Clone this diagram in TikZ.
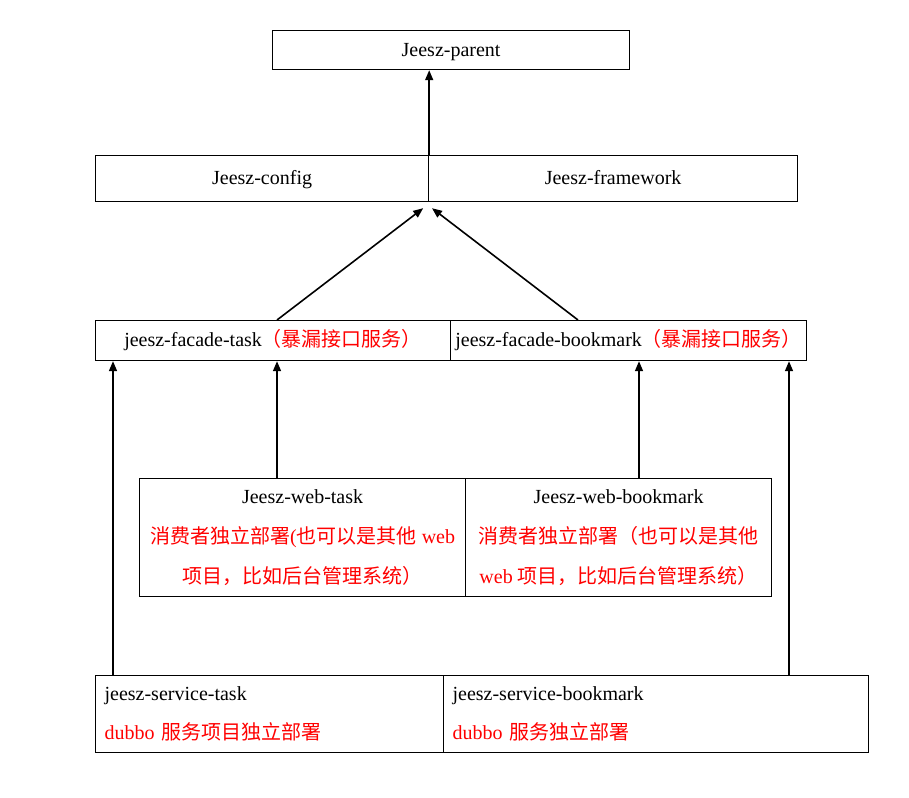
\documentclass[tikz,border=0pt]{standalone}
\usepackage{fontspec}
\setmainfont{Liberation Serif}
\newfontfamily\cjk{Noto Sans CJK SC}
\usetikzlibrary{arrows.meta,calc,positioning}
\definecolor{jred}{RGB}{255,0,0}
\tikzset
{
    box/.style  = {draw=black, line width=0.6pt, anchor=north west, inner sep=0pt, align=center, font=\fontsize{10}{20}\selectfont},
    onebox/.style = {box, text height=8pt, text depth=2pt},
    lbox/.style = {box, align=left, inner xsep=4.5pt, font=\fontsize{10}{19.5}\selectfont},
    dep/.style  = {-{Triangle[length=5pt,width=4pt]}, line width=0.8pt}
}
\newcommand{\zh}[1]{{\cjk #1}}
\newcommand{\rd}[1]{\textcolor{jred}{#1}}

\begin{document}
\begin{tikzpicture}[x=0.5pt, y=-0.5pt]
\useasboundingbox (0,0) rectangle (909,797);
\node (parent)	[onebox, minimum width=178.5pt, minimum height=19.5pt]	at (272,30)	{Jeesz-parent};
\node (cfg)		[onebox, minimum width=166.5pt, minimum height=23pt]	at (95,155)	{Jeesz-config};
\node (fwork)	[onebox, minimum width=184.5pt, minimum height=23pt]	at (428,155)	{Jeesz-framework};
\node (ftask)	[onebox, minimum width=177.5pt, minimum height=20pt]	at (95,320)	{jeesz-facade-task\rd{\zh{（暴漏接口服务）}}};
\node (fbook)	[onebox, minimum width=178pt, minimum height=20pt]	at (450,320)	{jeesz-facade-bookmark\rd{\zh{（暴漏接口服务）}}};
\node (wtask)	[box, minimum width=163pt, minimum height=59pt]		at (139,478)	{Jeesz-web-task\\ \rd{\zh{消费者独立部署}(\zh{也可以是其他} web}\\ \rd{\zh{项目，比如后台管理系统）}}};
\node (wbook)	[box, minimum width=153pt, minimum height=59pt]		at (465,478)	{Jeesz-web-bookmark\\ \rd{\zh{消费者独立部署（也可以是其他}}\\ \rd{web \zh{项目，比如后台管理系统）}}};
\node (stask)	[lbox, text width=165pt, minimum height=38.5pt]		at (95,675)	{jeesz-service-task\\ \rd{dubbo \zh{服务项目独立部署}}};
\node (sbook)	[lbox, text width=203.5pt, minimum height=38.5pt]	at (443,675)	{jeesz-service-bookmark\\ \rd{dubbo \zh{服务独立部署}}};

%% dependencies
\draw[dep] (cfg.north east) -- (cfg.north east |- parent.south);
\draw[dep] ($(ftask.north west)+(182,0)$) -- ($(cfg.south east)+(-6,6)$);
\draw[dep] ($(fbook.north west)+(128,0)$) -- ($(fwork.south west)+(4,6)$);
\draw[dep] ($(stask.north west)+(18,0)$) coordinate (s1) -- (s1 |- ftask.south);
\draw[dep] ($(wtask.north west)+(138,0)$) coordinate (w1) -- (w1 |- ftask.south);
\draw[dep] ($(wbook.north west)+(174,0)$) coordinate (w2) -- (w2 |- fbook.south);
\draw[dep] ($(sbook.north west)+(346,0)$) coordinate (s2) -- (s2 |- fbook.south);
\end{tikzpicture}
\end{document}
